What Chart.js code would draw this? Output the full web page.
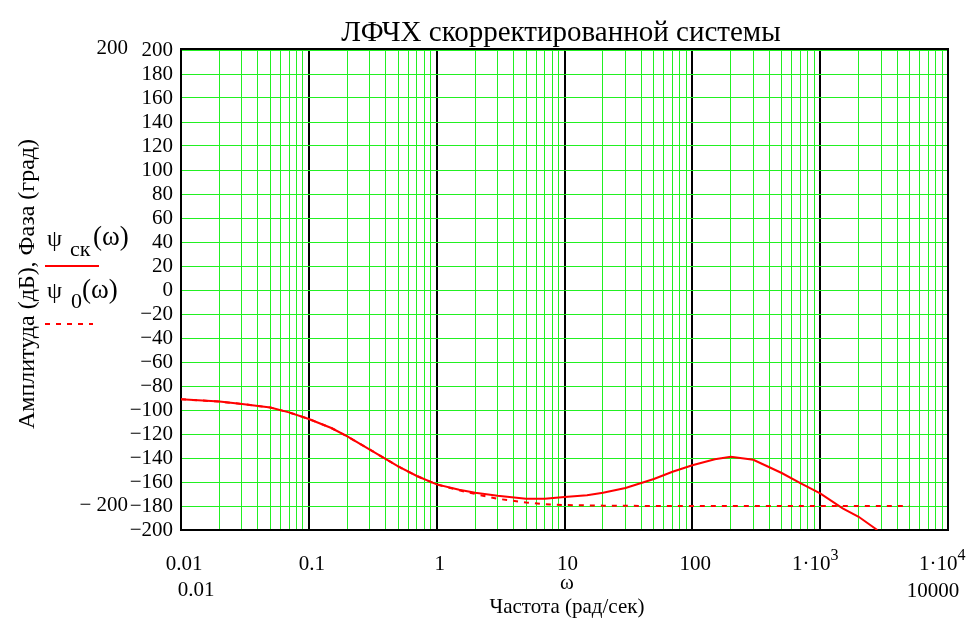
<!DOCTYPE html>
<html>
<head>
<meta charset="utf-8">
<script src="https://cdn.jsdelivr.net/npm/chart.js@4/dist/chart.umd.min.js"></script>
<style>
  html, body { margin: 0; background: #fff; }
  canvas { display: block; }
</style>
</head>
<body>
<canvas id="chart" width="969" height="625"></canvas>
<script>
// частоты (рад/сек) и фазы (град)
const freqCk = [0.01, 0.02, 0.03, 0.05, 0.07, 0.1, 0.15, 0.2, 0.3, 0.5, 0.7, 1, 1.5, 2, 3, 5, 7, 10, 15, 20, 30, 50, 70, 100, 150, 200, 300, 500, 700, 1000, 1500, 2000, 2800];
const psiCk  = [-91, -93, -95, -98, -102, -107.5, -115, -122, -133, -147, -155, -162, -166.5, -169, -171.5, -174, -174, -172.5, -171, -169, -165, -157.5, -151.5, -146, -141, -139, -141.5, -152.5, -161, -169.5, -182, -189, -200];

const freq0 = [0.01, 0.02, 0.03, 0.05, 0.07, 0.1, 0.15, 0.2, 0.3, 0.5, 0.7, 1, 1.5, 2, 3, 5, 7, 10, 20, 50, 100, 1000, 5000];
const psi0  = [-91, -93, -95, -98, -102, -107.5, -115, -122, -133, -147, -155, -162, -167, -170, -174, -177, -178.5, -179.2, -179.7, -180, -180, -180, -180];

const yTicks = [200, 180, 160, 140, 120, 100, 80, 60, 40, 20, 0, -20, -40, -60, -80, -100, -120, -140, -160, -180, -200];
const decadeLabels = ['0.01', '0.1', '1', '10', '100', ['1·10', '3'], ['1·10', '4']];
const decadeValues = [0.01, 0.1, 1, 10, 100, 1000, 10000];

const SERIF = '"Liberation Serif", "Times New Roman", serif';
const GREEN = '#22f022';
const RED = '#ff0000';

const toPts = (xs, ys) => xs.map((x, i) => ({ x, y: ys[i] }));
const isDecade = v => Math.abs(Math.log10(v) - Math.round(Math.log10(v))) < 1e-6;
const fmtY = v => v < 0 ? '\u2212' + (-v) : String(v);

const textPlugin = {
  id: 'texts',
  beforeDatasetsDraw(chart) {
    const { ctx, chartArea: a } = chart;
    ctx.save();
    ctx.strokeStyle = '#000';
    ctx.lineWidth = 2;
    ctx.strokeRect(a.left, a.top - 1, a.right - a.left, a.bottom - a.top + 1);
    ctx.restore();
  },
  afterDraw(chart) {
    const { ctx } = chart;
    const xs = chart.scales.x;
    ctx.save();
    ctx.fillStyle = '#000';
    ctx.textBaseline = 'alphabetic';

    // заголовок
    ctx.font = '29px ' + SERIF;
    ctx.textAlign = 'center';
    ctx.fillText('ЛФЧХ скорректированной системы', 561, 41);

    // пределы слева
    ctx.font = '21px ' + SERIF;
    ctx.textAlign = 'right';
    ctx.fillText('200', 128, 54);
    ctx.fillText('\u2212 200', 128, 511);

    // подписи оси X
    decadeValues.forEach((v, i) => {
      const px = xs.getPixelForValue(v);
      const lab = decadeLabels[i];
      ctx.font = '21px ' + SERIF;
      if (Array.isArray(lab)) {
        const w = ctx.measureText(lab[0]).width;
        const x0 = i === 5 ? 792 : 919;
        ctx.textAlign = 'left';
        ctx.fillText(lab[0], x0, 570);
        ctx.font = '16px ' + SERIF;
        ctx.fillText(lab[1], x0 + w, 560);
      } else {
        ctx.textAlign = 'center';
        ctx.fillText(lab, px + 3, 570);
      }
    });
    ctx.font = '21px ' + SERIF;
    ctx.textAlign = 'center';
    ctx.fillText('0.01', 196, 596);
    ctx.fillText('10000', 933, 597);
    ctx.fillText('ω', 567, 589);
    ctx.fillText('Частота (рад/сек)', 567, 613);

    // подпись оси Y
    ctx.save();
    ctx.translate(34, 284);
    ctx.rotate(-Math.PI / 2);
    ctx.font = '24px ' + SERIF;
    ctx.textAlign = 'center';
    ctx.fillText('Амплитуда (дБ), Фаза (град)', 0, 0);
    ctx.restore();

    // легенда
    ctx.textAlign = 'left';
    ctx.font = '24px ' + SERIF;
    ctx.fillText('ψ', 47, 246);
    ctx.font = '22px ' + SERIF;
    ctx.fillText('ск', 70, 256);
    ctx.font = '27px ' + SERIF;
    ctx.fillText('(ω)', 93, 245);

    ctx.font = '24px ' + SERIF;
    ctx.fillText('ψ', 47, 298);
    ctx.font = '22px ' + SERIF;
    ctx.fillText('0', 71, 308);
    ctx.font = '27px ' + SERIF;
    ctx.fillText('(ω)', 82, 298);

    ctx.strokeStyle = RED;
    ctx.lineWidth = 2;
    ctx.beginPath();
    ctx.moveTo(45, 266);
    ctx.lineTo(99, 266);
    ctx.stroke();
    ctx.setLineDash([5, 6]);
    ctx.beginPath();
    ctx.moveTo(45, 324);
    ctx.lineTo(93, 324);
    ctx.stroke();
    ctx.restore();
  }
};

new Chart(document.getElementById('chart'), {
  type: 'line',
  data: {
    datasets: [
      {
        label: 'ψск(ω)',
        data: toPts(freqCk, psiCk),
        borderColor: RED,
        borderWidth: 2,
        pointRadius: 0,
        tension: 0,
        order: 1
      },
      {
        label: 'ψ0(ω)',
        data: toPts(freq0, psi0),
        borderColor: RED,
        borderWidth: 2,
        borderDash: [5, 6],
        pointRadius: 0,
        tension: 0,
        order: 2
      }
    ]
  },
  options: {
    responsive: false,
    animation: false,
    layout: { padding: { top: 50, right: 21, bottom: 0, left: 0 } },
    plugins: {
      legend: { display: false },
      tooltip: { enabled: false }
    },
    scales: {
      x: {
        type: 'logarithmic',
        min: 0.01,
        max: 10000,
        afterBuildTicks: scale => {
          const t = [];
          for (let e = -2; e < 4; e++) {
            for (let m = 1; m < 10; m++) t.push({ value: Number((m * Math.pow(10, e)).toPrecision(6)) });
          }
          t.push({ value: 10000 });
          scale.ticks = t;
        },
        afterFit: scale => { scale.height = 95; },
        ticks: { display: false },
        border: { display: false },
        grid: {
          drawTicks: false,
          color: c => isDecade(c.tick.value) ? '#000' : GREEN,
          lineWidth: c => isDecade(c.tick.value) ? 2 : 1
        }
      },
      y: {
        min: -200,
        max: 200,
        afterBuildTicks: scale => { scale.ticks = yTicks.map(v => ({ value: v })); },
        afterFit: scale => { scale.width = 181; },
        ticks: {
          autoSkip: false,
          padding: 8,
          color: '#000',
          font: { family: SERIF, size: 21 },
          callback: v => fmtY(v)
        },
        border: { display: false },
        grid: { drawTicks: false, color: GREEN, lineWidth: 1 }
      }
    }
  },
  plugins: [textPlugin]
});
</script>
</body>
</html>
